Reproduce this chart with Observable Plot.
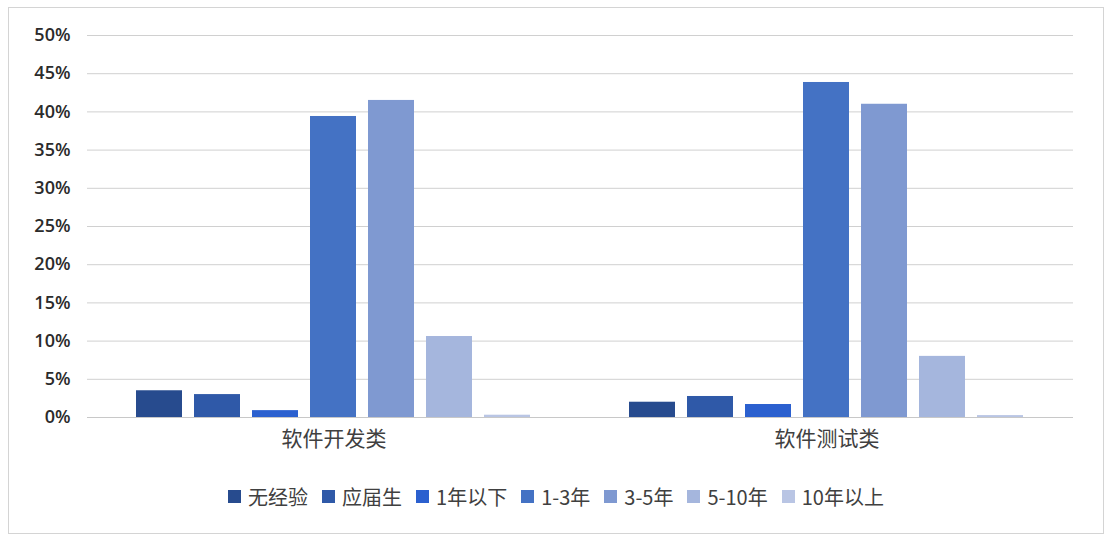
<!DOCTYPE html>
<html>
<head>
<meta charset="utf-8">
<script src="https://cdn.jsdelivr.net/npm/d3@7"></script>
<script src="https://cdn.jsdelivr.net/npm/@observablehq/plot@0.6"></script>
<style>
  html, body { margin: 0; padding: 0; background: #fff; }
  #wrap { position: relative; width: 1120px; height: 548px; overflow: hidden; background: #fff; }
  #frame { position: absolute; left: 8px; top: 7px; width: 1096px; height: 527px; border: 1px solid #d4d4d4; box-sizing: border-box; }
  #chart { position: absolute; left: 0; top: 0; }
  #legend { position: absolute; left: 0; top: 482px; width: 1112px; display: flex; justify-content: center; align-items: center;
    font-family: "Noto Sans CJK SC", "Noto Sans", sans-serif; font-size: 20px; color: #404040; }
  #legend .item { display: flex; align-items: center; margin: 0 7px; }
  #legend .sw { width: 13px; height: 13px; margin-right: 7px; }
</style>
</head>
<body>
<div id="wrap">
  <div id="frame"></div>
  <div id="chart"></div>
  <div id="legend"></div>
</div>
<script>
const categories = ["软件开发类", "软件测试类"];
const series = ["无经验", "应届生", "1年以下", "1-3年", "3-5年", "5-10年", "10年以上"];
const devValues = [3.5, 3.0, 0.9, 39.4, 41.5, 10.6, 0.3];
const testValues = [2.0, 2.75, 1.7, 43.85, 41.0, 8.0, 0.25];
const colors = ["#274b8e", "#2f59a8", "#2b60cf", "#4472c4", "#7f99d1", "#a5b6dd", "#b9c5e4"];
const yTicks = [0, 5, 10, 15, 20, 25, 30, 35, 40, 45, 50];

const data = [];
series.forEach((s, i) => {
  data.push({category: categories[0], series: s, value: devValues[i]});
  data.push({category: categories[1], series: s, value: testValues[i]});
});

const chart = Plot.plot({
  width: 1120,
  height: 460,
  marginLeft: 87,
  marginRight: 47,
  marginTop: 35,
  marginBottom: 43,
  style: {background: "transparent", fontSize: "18px", color: "#333"},
  fx: {domain: categories, padding: 0, label: null},
  x: {domain: series, paddingInner: 0.2, paddingOuter: 0.84, axis: null},
  y: {domain: [0, 50], ticks: yTicks, label: null},
  color: {domain: series, range: colors},
  marks: [
    Plot.gridY(yTicks, {stroke: "#d0d0d0", strokeOpacity: 1, strokeWidth: 1}),
    Plot.axisY(yTicks, {
      tickSize: 0, tickPadding: 17, tickFormat: d => d + "%",
      fontFamily: "'Open Sans', 'DejaVu Sans', sans-serif", fontWeight: 600, fontSize: 18, fill: "#2b2b2b", label: null
    }),
    Plot.axisFx({
      anchor: "bottom", tickSize: 0, tickPadding: 14, label: null,
      fontFamily: "'Noto Sans CJK SC', sans-serif", fontSize: 21, fill: "#404040"
    }),
    Plot.barY(data, {fx: "category", x: "series", y: "value", fill: "series"}),
    Plot.ruleY([0], {stroke: "#c8c8c8"})
  ]
});
document.getElementById("chart").appendChild(chart);

const legend = document.getElementById("legend");
series.forEach((s, i) => {
  const item = document.createElement("div");
  item.className = "item";
  const sw = document.createElement("span");
  sw.className = "sw";
  sw.style.background = colors[i];
  const t = document.createElement("span");
  t.textContent = s;
  item.appendChild(sw);
  item.appendChild(t);
  legend.appendChild(item);
});
</script>
</body>
</html>
